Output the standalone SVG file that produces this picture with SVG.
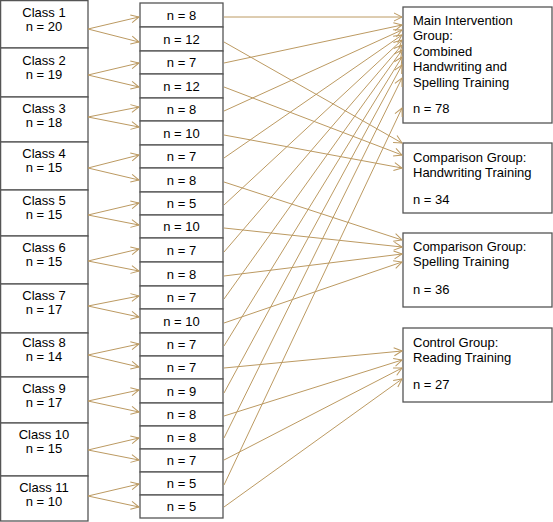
<svg xmlns="http://www.w3.org/2000/svg" width="553" height="522" viewBox="0 0 553 522">
<defs>
<style>
.box{fill:#fff;stroke:#555;stroke-width:1.3}
.t{font-family:"Liberation Sans",Arial,sans-serif;font-size:13px;fill:#000}
.c{text-anchor:middle}
.a{stroke:#BC9A62;stroke-width:1;fill:none;marker-end:url(#ah)}
</style>
<marker id="ah" markerUnits="userSpaceOnUse" markerWidth="10" markerHeight="10" refX="9" refY="5" orient="auto">
<path d="M1,1 L9,5 L1,9" fill="none" stroke="#BC9A62" stroke-width="1"/>
</marker>
</defs>
<rect width="553" height="522" fill="#fff"/>
<g id="classes">
<g id="class1"><rect class="box" x="0.6" y="0.6" width="87.4" height="47.4"/><text class="t c" x="44" y="16.5">Class 1</text><text class="t c" x="44" y="30.5">n = 20</text></g>
<g id="class2"><rect class="box" x="0.6" y="48" width="87.4" height="49"/><text class="t c" x="44" y="64.5">Class 2</text><text class="t c" x="44" y="78.5">n = 19</text></g>
<g id="class3"><rect class="box" x="0.6" y="97" width="87.4" height="45"/><text class="t c" x="44" y="112.5">Class 3</text><text class="t c" x="44" y="126.5">n = 18</text></g>
<g id="class4"><rect class="box" x="0.6" y="142" width="87.4" height="48"/><text class="t c" x="44" y="157.5">Class 4</text><text class="t c" x="44" y="171.5">n = 15</text></g>
<g id="class5"><rect class="box" x="0.6" y="190" width="87.4" height="46"/><text class="t c" x="44" y="205">Class 5</text><text class="t c" x="44" y="219">n = 15</text></g>
<g id="class6"><rect class="box" x="0.6" y="236" width="87.4" height="48"/><text class="t c" x="44" y="251.5">Class 6</text><text class="t c" x="44" y="265.5">n = 15</text></g>
<g id="class7"><rect class="box" x="0.6" y="284" width="87.4" height="49"/><text class="t c" x="44" y="299.5">Class 7</text><text class="t c" x="44" y="313.5">n = 17</text></g>
<g id="class8"><rect class="box" x="0.6" y="333" width="87.4" height="44"/><text class="t c" x="44" y="347">Class 8</text><text class="t c" x="44" y="361">n = 14</text></g>
<g id="class9"><rect class="box" x="0.6" y="377" width="87.4" height="46"/><text class="t c" x="44" y="392.5">Class 9</text><text class="t c" x="44" y="406.5">n = 17</text></g>
<g id="class10"><rect class="box" x="0.6" y="423" width="87.4" height="53"/><text class="t c" x="44" y="438.5">Class 10</text><text class="t c" x="44" y="452.5">n = 15</text></g>
<g id="class11"><rect class="box" x="0.6" y="476" width="87.4" height="45"/><text class="t c" x="44" y="491.5">Class 11</text><text class="t c" x="44" y="505.5">n = 10</text></g>
</g>
<g id="subgroups">
<g id="s1"><rect class="box" x="140" y="3" width="83" height="24"/><text class="t c" x="181.5" y="19.5">n = 8</text></g>
<g id="s2"><rect class="box" x="140" y="27" width="83" height="24"/><text class="t c" x="181.5" y="43.5">n = 12</text></g>
<g id="s3"><rect class="box" x="140" y="51" width="83" height="23"/><text class="t c" x="181.5" y="67">n = 7</text></g>
<g id="s4"><rect class="box" x="140" y="74" width="83" height="24"/><text class="t c" x="181.5" y="90.5">n = 12</text></g>
<g id="s5"><rect class="box" x="140" y="98" width="83" height="23"/><text class="t c" x="181.5" y="114">n = 8</text></g>
<g id="s6"><rect class="box" x="140" y="121" width="83" height="24"/><text class="t c" x="181.5" y="137.5">n = 10</text></g>
<g id="s7"><rect class="box" x="140" y="145" width="83" height="23"/><text class="t c" x="181.5" y="161">n = 7</text></g>
<g id="s8"><rect class="box" x="140" y="168" width="83" height="24"/><text class="t c" x="181.5" y="184.5">n = 8</text></g>
<g id="s9"><rect class="box" x="140" y="192" width="83" height="23"/><text class="t c" x="181.5" y="208">n = 5</text></g>
<g id="s10"><rect class="box" x="140" y="215" width="83" height="23"/><text class="t c" x="181.5" y="231">n = 10</text></g>
<g id="s11"><rect class="box" x="140" y="238" width="83" height="24"/><text class="t c" x="181.5" y="254.5">n = 7</text></g>
<g id="s12"><rect class="box" x="140" y="262" width="83" height="24"/><text class="t c" x="181.5" y="278.5">n = 8</text></g>
<g id="s13"><rect class="box" x="140" y="286" width="83" height="23"/><text class="t c" x="181.5" y="302">n = 7</text></g>
<g id="s14"><rect class="box" x="140" y="309" width="83" height="24"/><text class="t c" x="181.5" y="325.5">n = 10</text></g>
<g id="s15"><rect class="box" x="140" y="333" width="83" height="23"/><text class="t c" x="181.5" y="349">n = 7</text></g>
<g id="s16"><rect class="box" x="140" y="356" width="83" height="23"/><text class="t c" x="181.5" y="372">n = 7</text></g>
<g id="s17"><rect class="box" x="140" y="379" width="83" height="24"/><text class="t c" x="181.5" y="395.5">n = 9</text></g>
<g id="s18"><rect class="box" x="140" y="403" width="83" height="23"/><text class="t c" x="181.5" y="419">n = 8</text></g>
<g id="s19"><rect class="box" x="140" y="426" width="83" height="23"/><text class="t c" x="181.5" y="442">n = 8</text></g>
<g id="s20"><rect class="box" x="140" y="449" width="83" height="23"/><text class="t c" x="181.5" y="465">n = 7</text></g>
<g id="s21"><rect class="box" x="140" y="472" width="83" height="23"/><text class="t c" x="181.5" y="488">n = 5</text></g>
<g id="s22"><rect class="box" x="140" y="495" width="83" height="23"/><text class="t c" x="181.5" y="511">n = 5</text></g>
</g>
<g id="groups">
<g id="main"><rect class="box" x="403" y="7" width="149" height="116"/>
<text class="t" x="413" y="24.5">Main Intervention</text><text class="t" x="413" y="40">Group:</text><text class="t" x="413" y="55.5">Combined</text><text class="t" x="413" y="71">Handwriting and</text><text class="t" x="413" y="86.5">Spelling Training</text><text class="t" x="413" y="112.5">n = 78</text></g>
<g id="hw"><rect class="box" x="403" y="143" width="149" height="70"/>
<text class="t" x="413" y="161.5">Comparison Group:</text><text class="t" x="413" y="176.5">Handwriting Training</text><text class="t" x="413" y="204">n = 34</text></g>
<g id="sp"><rect class="box" x="403" y="233" width="149" height="74"/>
<text class="t" x="413" y="250.5">Comparison Group:</text><text class="t" x="413" y="266">Spelling Training</text><text class="t" x="413" y="293.5">n = 36</text></g>
<g id="ctrl"><rect class="box" x="403" y="328" width="149" height="74"/>
<text class="t" x="413" y="346.5">Control Group:</text><text class="t" x="413" y="361.5">Reading Training</text><text class="t" x="413" y="388.5">n = 27</text></g>
</g>
<g id="connectors">
<line class="a" x1="88" y1="29" x2="139" y2="17"/><line class="a" x1="88" y1="29" x2="139" y2="42"/>
<line class="a" x1="88" y1="75" x2="139" y2="63"/><line class="a" x1="88" y1="75" x2="139" y2="87"/>
<line class="a" x1="88" y1="117" x2="139" y2="107"/><line class="a" x1="88" y1="117" x2="139" y2="127"/>
<line class="a" x1="88" y1="168" x2="139" y2="155"/><line class="a" x1="88" y1="168" x2="139" y2="180"/>
<line class="a" x1="88" y1="215" x2="139" y2="203"/><line class="a" x1="88" y1="215" x2="139" y2="225"/>
<line class="a" x1="88" y1="261" x2="139" y2="249"/><line class="a" x1="88" y1="261" x2="139" y2="271"/>
<line class="a" x1="88" y1="306" x2="139" y2="296"/><line class="a" x1="88" y1="306" x2="139" y2="317"/>
<line class="a" x1="88" y1="355" x2="139" y2="344"/><line class="a" x1="88" y1="355" x2="139" y2="367"/>
<line class="a" x1="88" y1="401" x2="139" y2="390"/><line class="a" x1="88" y1="401" x2="139" y2="412"/>
<line class="a" x1="88" y1="450" x2="139" y2="438"/><line class="a" x1="88" y1="450" x2="139" y2="460"/>
<line class="a" x1="88" y1="496" x2="139" y2="484"/><line class="a" x1="88" y1="496" x2="139" y2="507"/>
<line class="a" x1="224" y1="17" x2="402" y2="17"/>
<line class="a" x1="224" y1="63" x2="402" y2="25"/>
<line class="a" x1="224" y1="111" x2="402" y2="30"/>
<line class="a" x1="224" y1="158" x2="402" y2="35"/>
<line class="a" x1="224" y1="205" x2="402" y2="40"/>
<line class="a" x1="224" y1="252" x2="402" y2="45"/>
<line class="a" x1="224" y1="299" x2="402" y2="50"/>
<line class="a" x1="224" y1="346" x2="402" y2="57"/>
<line class="a" x1="224" y1="393" x2="402" y2="65"/>
<line class="a" x1="224" y1="438" x2="402" y2="78"/>
<line class="a" x1="224" y1="485" x2="402" y2="108"/>
<line class="a" x1="224" y1="42" x2="402" y2="143"/>
<line class="a" x1="224" y1="87" x2="402" y2="155"/>
<line class="a" x1="224" y1="135" x2="402" y2="168"/>
<line class="a" x1="224" y1="182" x2="402" y2="240"/>
<line class="a" x1="224" y1="228" x2="402" y2="247"/>
<line class="a" x1="224" y1="276" x2="402" y2="254"/>
<line class="a" x1="224" y1="323" x2="402" y2="262"/>
<line class="a" x1="224" y1="368" x2="402" y2="351"/>
<line class="a" x1="224" y1="416" x2="402" y2="360"/>
<line class="a" x1="224" y1="460" x2="402" y2="368"/>
<line class="a" x1="224" y1="507" x2="402" y2="379"/>
</g>
</svg>
